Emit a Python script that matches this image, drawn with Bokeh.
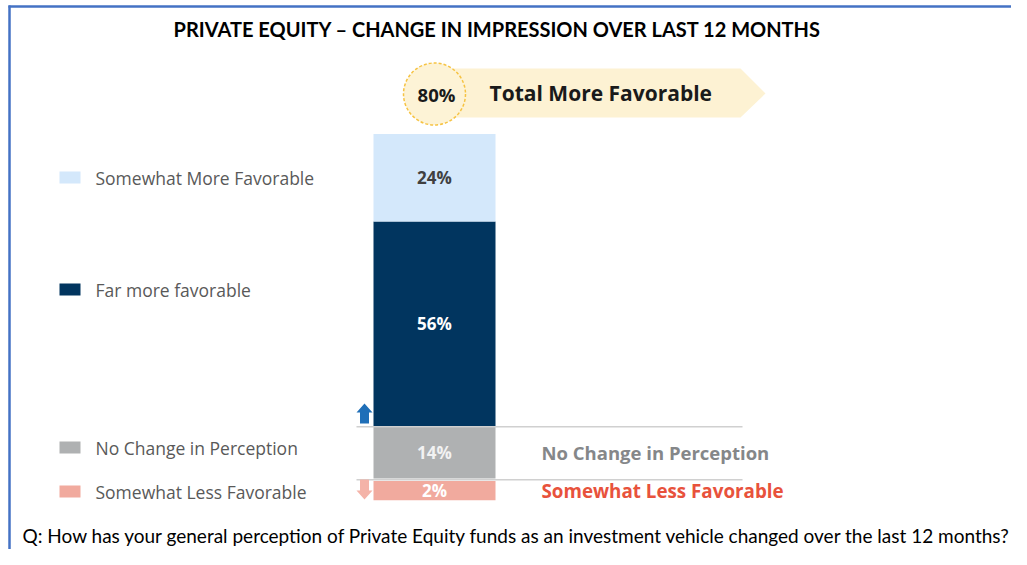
from bokeh.plotting import figure
from bokeh.models import Range1d, ColumnDataSource
from bokeh.core.properties import value
from bokeh.embed import file_html
from bokeh.resources import INLINE

# ---------------- data ----------------
title_text = "PRIVATE EQUITY \u2013 CHANGE IN IMPRESSION OVER LAST 12 MONTHS"
question_text = "Q: How has your general perception of Private Equity funds as an investment vehicle changed over the last 12 months?"
positive_labels = ["Far more favorable", "Somewhat More Favorable"]
positive_values = [56, 24]
negative_labels = ["No Change in Perception", "Somewhat Less Favorable"]
negative_values = [14, 2]
total_label = "Total More Favorable"

positive_colors = ["#01355f", "#d4e8fb"]
positive_text_colors = ["#ffffff", "#404040"]
negative_colors = ["#afb1b2", "#f1aa9e"]
negative_text_colors = ["#f2f2f2", "#ffffff"]
negative_side_colors = ["#858789", "#e8523c"]

W, H = 1011, 549
DY = -4                  # global vertical shift so that everything fits
PX_PER_PCT = 3.65
BASE_PX = 429.5 + DY     # pixel row of the 0% baseline (from top of figure)
GAP = 0.35               # gap between bars below baseline (percent units)
MIN_VISIBLE = 5.3        # minimum drawn height for very small segments

y_top = BASE_PX / PX_PER_PCT
y_bot = -(H - BASE_PX) / PX_PER_PCT


def sy(vals):
    return [v + DY for v in vals]


p = figure(width=W, height=H, output_backend="svg", toolbar_location=None,
           x_range=Range1d(0, W), y_range=Range1d(y_bot, y_top),
           x_axis_type=None, y_axis_type=None, min_border=0,
           min_border_left=0, min_border_right=0, min_border_top=0, min_border_bottom=0)
p.extra_y_ranges = {"px": Range1d(H, 0)}
p.outline_line_color = None
p.background_fill_color = "white"
p.border_fill_color = "white"

FONT = "Open Sans"
BAR_X = 434
BAR_W = 122

# ---- frame border (top + left) ----
p.segment(x0=[8], y0=sy([10]), x1=[W], y1=sy([10]), line_color="#4472c4", line_width=2.5, y_range_name="px")
p.segment(x0=[9], y0=sy([9]), x1=[9], y1=[H], line_color="#4472c4", line_width=2.5, y_range_name="px")

# ---- title ----
p.text(x=[497], y=sy([32]), text=[title_text], text_font=value("Lato"), text_font_style="bold",
       text_font_size="20px", text_color="#000000", text_align="center", text_baseline="middle",
       y_range_name="px")

# ---- separator lines ----
sep_y = [-GAP / 2, -(GAP + negative_values[0] + GAP)]
p.segment(x0=[356, 356], y0=sep_y, x1=[742, 742], y1=sep_y, line_color="#d0d0d0", line_width=1.5)

# ---- positive stack ----
pb, pt = [], []
acc = 0
for v in positive_values:
    pb.append(acc)
    acc += v
    pt.append(acc)
total_more = acc
src_pos = ColumnDataSource(dict(x=[BAR_X] * len(positive_values), bottom=pb, top=pt,
                                color=positive_colors,
                                mid=[(a + b) / 2 for a, b in zip(pb, pt)],
                                lab=[f"{v}%" for v in positive_values],
                                tcol=positive_text_colors))
p.vbar(x="x", bottom="bottom", top="top", width=BAR_W, fill_color="color", line_color=None, source=src_pos)
p.text(x="x", y="mid", text="lab", text_color="tcol", text_font=value(FONT), text_font_style="bold",
       text_font_size="17px", text_align="center", text_baseline="middle", source=src_pos)

# ---- negative stack ----
nt, nb = [], []
acc = 0
for v in negative_values:
    acc -= GAP if not nt else 2 * GAP
    nt.append(acc)
    acc -= max(v, MIN_VISIBLE)
    nb.append(acc)
src_neg = ColumnDataSource(dict(x=[BAR_X] * len(negative_values), bottom=nb, top=nt,
                                color=negative_colors,
                                mid=[(a + b) / 2 for a, b in zip(nb, nt)],
                                lab=[f"{v}%" for v in negative_values],
                                tcol=negative_text_colors,
                                sx=[541] * len(negative_values),
                                name=negative_labels, scol=negative_side_colors,
                                fs=["18.5px", "18.8px"]))
p.vbar(x="x", bottom="bottom", top="top", width=BAR_W, fill_color="color", line_color=None, source=src_neg)
p.text(x="x", y="mid", text="lab", text_color="tcol", text_font=value(FONT), text_font_style="bold",
       text_font_size="17px", text_align="center", text_baseline="middle", source=src_neg)
p.text(x="sx", y="mid", text="name", text_color="scol", text_font=value(FONT), text_font_style="bold",
       text_font_size="fs", text_align="left", text_baseline="middle", source=src_neg)

# ---- arrows ----
up_x = [356, 364, 372, 368.5, 368.5, 359.5, 359.5]
up_y = sy([416, 407, 416, 416, 427, 427, 416])
dn_x = [356, 364, 372, 368.5, 368.5, 359.5, 359.5]
dn_y = sy([494, 503, 494, 494, 483, 483, 494])
p.patch(up_x, up_y, fill_color="#1f6fb8", line_color=None, y_range_name="px")
p.patch(dn_x, dn_y, fill_color="#f4b3a8", line_color=None, y_range_name="px")

# ---- banner ----
bx = [434, 740, 765, 740, 434]
by = sy([72, 72, 97, 121, 121])
p.patch(bx, by, fill_color="#fdf2d3", line_color=None, y_range_name="px")
p.ellipse(x=[434], y=sy([97.5]), width=62, height=62, fill_color="#fdf3d6", line_color="#f6c343",
          line_width=1.5, line_dash="3 2", y_range_name="px")
p.text(x=[436], y=sy([98]), text=[f"{total_more}%"], text_font=value(FONT), text_font_style="bold",
       text_font_size="18.5px", text_color="#1a1a1a", text_align="center", text_baseline="middle",
       y_range_name="px")
p.text(x=[489], y=sy([96]), text=[total_label], text_font=value(FONT), text_font_style="bold",
       text_font_size="21px", text_color="#1a1a1a", text_align="left", text_baseline="middle",
       y_range_name="px")

# ---- left legend ----
leg_labels = ["Somewhat More Favorable", "Far more favorable", "No Change in Perception", "Somewhat Less Favorable"]
leg_colors = ["#d4e8fb", "#01355f", "#afb1b2", "#f1aa9e"]
leg_y = sy([181, 293, 451, 495])
src_leg = ColumnDataSource(dict(x=[69.5] * 4, y=leg_y, c=leg_colors, t=leg_labels, tx=[95] * 4))
p.rect(x="x", y="y", width=21, height=12, fill_color="c", line_color=None, source=src_leg, y_range_name="px")
p.text(x="tx", y="y", text="t", text_color="#595959", text_font=value(FONT), text_font_size="17.5px",
       text_align="left", text_baseline="middle", source=src_leg, y_range_name="px")

# ---- question ----
p.text(x=[22], y=[535], text=[question_text], text_font=value("Lato"), text_font_size="19px",
       text_color="#000000", text_align="left", text_baseline="middle", y_range_name="px")

open("out.html", "w").write(file_html(p, INLINE))
